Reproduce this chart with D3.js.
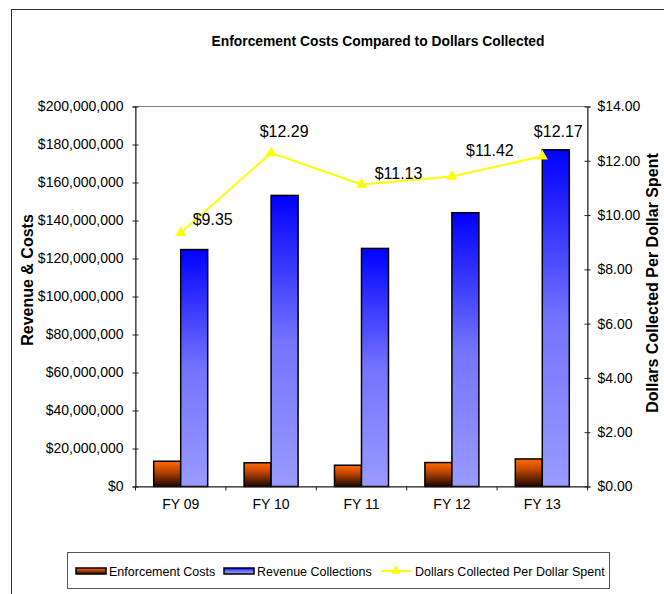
<!DOCTYPE html>
<html>
<head>
<meta charset="utf-8">
<script src="https://cdn.jsdelivr.net/npm/d3@7"></script>
<style>
  html, body { margin: 0; padding: 0; background: #fff; }
  svg { display: block; font-family: "Liberation Sans", Arial, sans-serif; }
</style>
</head>
<body>
<svg id="chart" width="664" height="594"></svg>
<script>
// Fiscal years and series
const years = ["FY 09", "FY 10", "FY 11", "FY 12", "FY 13"];
const enforcementCosts = [13300000, 12500000, 11200000, 12600000, 14500000];
const revenueCollections = [124700000, 153200000, 125300000, 144100000, 177200000];
const dollarsPerDollar = [9.35, 12.29, 11.13, 11.42, 12.17];

// Axis ticks
const leftTicks = [0, 20e6, 40e6, 60e6, 80e6, 100e6, 120e6, 140e6, 160e6, 180e6, 200e6];
const rightTicks = [0, 2, 4, 6, 8, 10, 12, 14];

// Hand-placed offsets of the ratio labels from their points (dx, dy)
const labelNudge = [[32, -13], [13, -22], [37, -11], [38, -26], [16, -25]];

const svg = d3.select("#chart");
const plot = { left: 135.5, right: 587.5, top: 106.5, bottom: 486.5 };

const x = d3.scaleBand().domain(years).range([plot.left, plot.right]).padding(0);
const xSub = d3.scaleBand().domain(["cost", "rev"]).range([0, x.bandwidth()])
  .paddingInner(0).paddingOuter(0.674);
const yLeft = d3.scaleLinear().domain([0, 200e6]).range([plot.bottom, plot.top]);
const yRight = d3.scaleLinear().domain([0, 14]).range([plot.bottom, plot.top]);

// Gradients
const defs = svg.append("defs");
const gOrange = defs.append("linearGradient").attr("id", "gradCost")
  .attr("x1", 0).attr("y1", 0).attr("x2", 0).attr("y2", 1);
gOrange.append("stop").attr("offset", "0%").attr("stop-color", "#ff6a00");
gOrange.append("stop").attr("offset", "35%").attr("stop-color", "#c84a00");
gOrange.append("stop").attr("offset", "100%").attr("stop-color", "#1a0700");
const gBlue = defs.append("linearGradient").attr("id", "gradRev")
  .attr("x1", 0).attr("y1", 0).attr("x2", 0).attr("y2", 1);
gBlue.append("stop").attr("offset", "0%").attr("stop-color", "#0000ff");
gBlue.append("stop").attr("offset", "50%").attr("stop-color", "#7373ff");
gBlue.append("stop").attr("offset", "100%").attr("stop-color", "#9a9aff");

// Chart frame
svg.append("rect").attr("x", 11.5).attr("y", 9.5).attr("width", 720).attr("height", 700)
  .attr("fill", "none").attr("stroke", "#333").attr("stroke-width", 1);

// Title
svg.append("text").attr("x", 378).attr("y", 46).attr("text-anchor", "middle")
  .attr("font-size", 14).attr("font-weight", "bold")
  .attr("textLength", 333).attr("lengthAdjust", "spacingAndGlyphs")
  .text("Enforcement Costs Compared to Dollars Collected");

// Plot area border
svg.append("rect").attr("x", plot.left).attr("y", plot.top)
  .attr("width", plot.right - plot.left).attr("height", plot.bottom - plot.top)
  .attr("fill", "none").attr("stroke", "#808080").attr("stroke-width", 1);

// Bars
const groups = svg.append("g").selectAll("g").data(years).join("g")
  .attr("transform", d => `translate(${x(d)},0)`);
groups.append("rect")
  .attr("x", xSub("cost")).attr("width", xSub.bandwidth())
  .attr("y", (d, i) => yLeft(enforcementCosts[i]))
  .attr("height", (d, i) => yLeft(0) - yLeft(enforcementCosts[i]))
  .attr("fill", "url(#gradCost)").attr("stroke", "#000").attr("stroke-width", 1.5);
groups.append("rect")
  .attr("x", xSub("rev")).attr("width", xSub.bandwidth())
  .attr("y", (d, i) => yLeft(revenueCollections[i]))
  .attr("height", (d, i) => yLeft(0) - yLeft(revenueCollections[i]))
  .attr("fill", "url(#gradRev)").attr("stroke", "#000").attr("stroke-width", 1.5);

// Left axis
const fmtDollar = d3.format("$,.0f");
const axL = svg.append("g").attr("transform", `translate(${plot.left},0)`)
  .call(d3.axisLeft(yLeft).tickValues(leftTicks).tickFormat(fmtDollar).tickSize(3).tickPadding(9));
axL.select(".domain").attr("stroke", "#222");
axL.selectAll(".tick line").attr("x1", 3).attr("x2", -3).attr("stroke", "#222");
axL.selectAll("text").attr("font-size", 14).attr("fill", "#000").attr("font-family", "Liberation Sans, Arial, sans-serif");

// Right axis
const fmtRatio = d3.format("$.2f");
const axR = svg.append("g").attr("transform", `translate(${plot.right},0)`)
  .call(d3.axisRight(yRight).tickValues(rightTicks).tickFormat(fmtRatio).tickSize(3).tickPadding(7));
axR.select(".domain").attr("stroke", "#222");
axR.selectAll(".tick line").attr("x1", -3).attr("x2", 3).attr("stroke", "#222");
axR.selectAll("text").attr("font-size", 14).attr("fill", "#000").attr("font-family", "Liberation Sans, Arial, sans-serif");

// Category axis
const axB = svg.append("g").attr("transform", `translate(0,${plot.bottom})`)
  .call(d3.axisBottom(x).tickSize(0).tickPadding(13));
axB.select(".domain").attr("stroke", "#222");
axB.selectAll("text").attr("font-size", 14).attr("fill", "#000").attr("font-family", "Liberation Sans, Arial, sans-serif");
const bounds = years.map(d => x(d)).concat([x(years[years.length - 1]) + x.step()]);
axB.selectAll(".bound").data(bounds).join("line").attr("class", "bound")
  .attr("x1", d => d).attr("x2", d => d).attr("y1", 0).attr("y2", 4).attr("stroke", "#222");

// Axis titles
svg.append("text").attr("transform", "translate(33,280) rotate(-90)")
  .attr("text-anchor", "middle").attr("font-size", 16).attr("font-weight", "bold")
  .text("Revenue & Costs");
svg.append("text").attr("transform", "translate(658,283) rotate(-90)")
  .attr("text-anchor", "middle").attr("font-size", 16).attr("font-weight", "bold")
  .text("Dollars Collected Per Dollar Spent");

// Ratio line
const cx = d => x(d) + x.bandwidth() / 2;
const line = d3.line().x((d, i) => cx(years[i])).y(d => yRight(d));
svg.append("path").datum(dollarsPerDollar).attr("d", line)
  .attr("fill", "none").attr("stroke", "#ffff00").attr("stroke-width", 2);
const tri = d3.symbol().type(d3.symbolTriangle).size(55);
svg.append("g").selectAll("path").data(dollarsPerDollar).join("path")
  .attr("transform", (d, i) => `translate(${cx(years[i])},${yRight(d)})`)
  .attr("d", tri).attr("fill", "#ffff00");

// Ratio labels
svg.append("g").selectAll("text").data(dollarsPerDollar).join("text")
  .attr("x", (d, i) => cx(years[i]) + labelNudge[i][0])
  .attr("y", (d, i) => yRight(d) + labelNudge[i][1])
  .attr("dy", "0.36em").attr("text-anchor", "middle").attr("font-size", 16)
  .text(d => fmtRatio(d));

// Legend
const lg = svg.append("g");
lg.append("rect").attr("x", 67.5).attr("y", 552.5).attr("width", 542).attr("height", 36)
  .attr("fill", "#fff").attr("stroke", "#555");
const legendY = 571;
lg.append("rect").attr("x", 76).attr("y", legendY - 3).attr("width", 30).attr("height", 6)
  .attr("fill", "url(#gradCost)").attr("stroke", "#000").attr("stroke-width", 1.5);
lg.append("text").attr("x", 109).attr("y", legendY + 5).attr("font-size", 12.5).text("Enforcement Costs");
lg.append("rect").attr("x", 224).attr("y", legendY - 3).attr("width", 30).attr("height", 6)
  .attr("fill", "url(#gradRev)").attr("stroke", "#000").attr("stroke-width", 1.5);
lg.append("text").attr("x", 257).attr("y", legendY + 5).attr("font-size", 12.5).text("Revenue Collections");
lg.append("line").attr("x1", 381).attr("x2", 411).attr("y1", legendY).attr("y2", legendY)
  .attr("stroke", "#ffff00").attr("stroke-width", 2);
lg.append("path").attr("transform", `translate(396,${legendY})`)
  .attr("d", d3.symbol().type(d3.symbolTriangle).size(40)).attr("fill", "#ffff00");
lg.append("text").attr("x", 415).attr("y", legendY + 5).attr("font-size", 12.5).text("Dollars Collected Per Dollar Spent");
</script>
</body>
</html>
